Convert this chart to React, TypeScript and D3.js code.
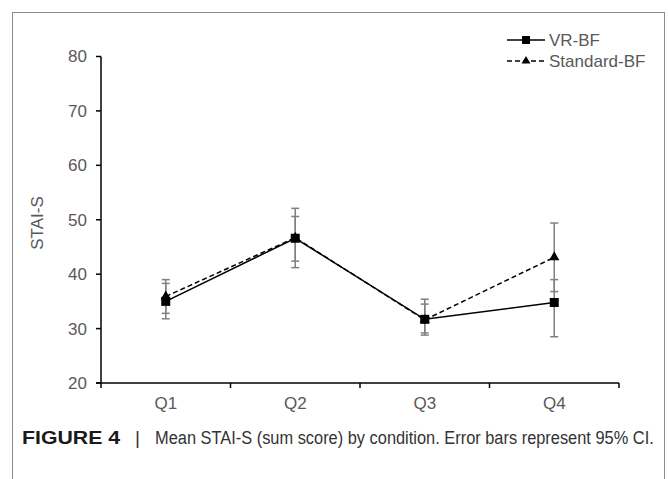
import React from "react";
import * as d3 from "d3";

const categories = ["Q1", "Q2", "Q3", "Q4"];
const vrMean = [35.0, 46.6, 31.7, 34.8];
const vrLower = [31.8, 42.4, 29.2, 28.5];
const vrUpper = [38.3, 50.6, 34.5, 39.0];
const stdMean = [35.9, 46.7, 31.6, 43.1];
const stdLower = [32.8, 41.2, 28.8, 36.8];
const stdUpper = [39.0, 52.1, 35.4, 49.4];
const yTicks = [20, 30, 40, 50, 60, 70, 80];

const W = 669;
const H = 479;
const FONT = "'Liberation Sans', Arial, sans-serif";

export default function App() {
  const x = d3.scaleBand<string>().domain(categories).range([101, 619]);
  const y = d3.scaleLinear().domain([20, 80]).range([383, 56.5]);
  const cx = (c: string) => (x(c) as number) + x.bandwidth() / 2;

  const line = d3
    .line<number>()
    .x((_, i) => cx(categories[i]))
    .y((d) => y(d));

  const tri = d3.symbol().type(d3.symbolTriangle).size(46)();
  const errColor = "#808080";

  const errBars = (lo: number[], hi: number[], key: string) =>
    categories.map((c, i) => (
      <g key={key + c} stroke={errColor} strokeWidth={1.5}>
        <line x1={cx(c)} x2={cx(c)} y1={y(lo[i])} y2={y(hi[i])} />
        <line x1={cx(c) - 4} x2={cx(c) + 4} y1={y(lo[i])} y2={y(lo[i])} />
        <line x1={cx(c) - 4} x2={cx(c) + 4} y1={y(hi[i])} y2={y(hi[i])} />
      </g>
    ));

  return (
    <svg
      width={W}
      height={H}
      style={{ position: "absolute", left: 0, top: 0, background: "#fff" }}
      fontFamily={FONT}
    >
      <rect x={12.5} y={12.5} width={652} height={500} fill="#fff" stroke="#8c8c8c" strokeWidth={1} />

      {/* error bars */}
      {errBars(stdLower, stdUpper, "s")}
      {errBars(vrLower, vrUpper, "v")}

      {/* axes */}
      <line x1={101} x2={101} y1={y(80)} y2={y(20)} stroke="#000" strokeWidth={1.5} />
      <line x1={96} x2={619} y1={y(20)} y2={y(20)} stroke="#000" strokeWidth={1.5} />
      {yTicks.map((t) => (
        <g key={t}>
          <line x1={96} x2={101} y1={y(t)} y2={y(t)} stroke="#000" strokeWidth={1.5} />
          <text x={87} y={y(t)} dy="0.35em" textAnchor="end" fontSize={17} fill="#595959">
            {t}
          </text>
        </g>
      ))}
      {[...categories.map((c) => x(c) as number), 619].map((px, i) => (
        <line key={"xt" + i} x1={px} x2={px} y1={y(20)} y2={y(20) + 5} stroke="#000" strokeWidth={1.5} />
      ))}
      {categories.map((c) => (
        <text key={"xl" + c} x={cx(c)} y={409} textAnchor="middle" fontSize={17} fill="#595959">
          {c}
        </text>
      ))}
      <text
        transform={`translate(43,223) rotate(-90)`}
        textAnchor="middle"
        fontSize={17}
        fill="#595959"
      >
        STAI-S
      </text>

      {/* lines */}
      <path d={line(stdMean) || ""} fill="none" stroke="#000" strokeWidth={1.5} strokeDasharray="5,3" />
      <path d={line(vrMean) || ""} fill="none" stroke="#000" strokeWidth={1.5} />

      {/* markers */}
      {categories.map((c, i) => (
        <path key={"tr" + c} d={tri || ""} transform={`translate(${cx(c)},${y(stdMean[i])})`} fill="#000" />
      ))}
      {categories.map((c, i) => (
        <rect key={"sq" + c} x={cx(c) - 4.5} y={y(vrMean[i]) - 4.5} width={9} height={9} fill="#000" />
      ))}

      {/* legend */}
      <g>
        <line x1={507} x2={545} y1={40} y2={40} stroke="#000" strokeWidth={1.5} />
        <rect x={522} y={36} width={8} height={8} fill="#000" />
        <text x={549} y={40} dy="0.35em" fontSize={17} fill="#595959">VR-BF</text>
        <line x1={507} x2={545} y1={61} y2={61} stroke="#000" strokeWidth={1.5} strokeDasharray="5,3" />
        <path d={d3.symbol().type(d3.symbolTriangle).size(34)() || ""} transform="translate(526,61)" fill="#000" />
        <text x={549} y={61} dy="0.35em" fontSize={17} fill="#595959">Standard-BF</text>
      </g>

      {/* caption */}
      <text transform="translate(22,444) scale(1.12,1)" fontSize={19} fontWeight="bold" fill="#1a1a1a">
        FIGURE 4
      </text>
      <text x={135} y={444} fontSize={19} fill="#333">|</text>
      <text transform="translate(155,444) scale(0.863,1)" fontSize={19} fill="#333">
        Mean STAI-S (sum score) by condition. Error bars represent 95% CI.
      </text>
    </svg>
  );
}
